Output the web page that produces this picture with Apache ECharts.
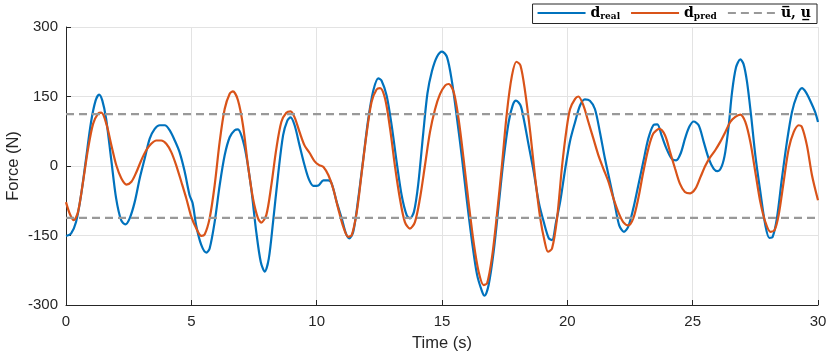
<!DOCTYPE html>
<html>
<head>
<meta charset="utf-8">
<script src="https://cdn.jsdelivr.net/npm/echarts@6/dist/echarts.min.js"></script>
<style>
  html, body { margin: 0; padding: 0; background: #fff; }
  #chart { width: 830px; height: 356px; }
</style>
</head>
<body>
<div id="chart"></div>
<script>
// measured force d_real (time in s, force in N)
const realTime = [0, 0.2, 0.4, 0.6, 0.8, 1.0, 1.18, 1.32, 1.45, 1.6, 1.8, 2.0, 2.2, 2.37, 2.54, 2.74, 2.94, 3.14, 3.34, 3.54, 3.74, 3.94, 4.14, 4.34, 4.53, 4.73, 4.93, 5.05, 5.2, 5.4, 5.6, 5.73, 5.93, 6.13, 6.33, 6.53, 6.73, 6.86, 7.02, 7.19, 7.39, 7.59, 7.77, 7.93, 8.09, 8.26, 8.46, 8.66, 8.83, 8.96, 9.12, 9.32, 9.52, 9.7, 9.87, 10.07, 10.27, 10.47, 10.6, 10.8, 11.0, 11.17, 11.3, 11.46, 11.66, 11.86, 12.06, 12.26, 12.46, 12.59, 12.79, 12.99, 13.19, 13.39, 13.59, 13.72, 13.88, 14.05, 14.25, 14.42, 14.6, 14.8, 15.0, 15.2, 15.4, 15.6, 15.8, 16.0, 16.2, 16.4, 16.6, 16.7, 16.86, 17.06, 17.26, 17.46, 17.66, 17.82, 17.95, 18.13, 18.26, 18.46, 18.66, 18.86, 19.06, 19.26, 19.39, 19.55, 19.72, 19.91, 20.1, 20.31, 20.51, 20.7, 20.9, 21.1, 21.3, 21.5, 21.7, 21.9, 22.07, 22.26, 22.43, 22.63, 22.83, 23.03, 23.23, 23.43, 23.59, 23.76, 23.96, 24.16, 24.34, 24.52, 24.7, 24.87, 25.04, 25.24, 25.44, 25.64, 25.84, 26.0, 26.17, 26.3, 26.44, 26.57, 26.73, 26.9, 27.03, 27.17, 27.33, 27.5, 27.7, 27.9, 28.06, 28.19, 28.36, 28.56, 28.76, 28.96, 29.16, 29.36, 29.52, 29.69, 29.89, 30];
const realForce = [-151, -146, -121, -63, 16, 95, 141, 154, 141, 102, 16, -70, -117, -126, -113, -78, -27, 16, 59, 80, 88, 88, 77, 55, 30, -11, -63, -80, -130, -171, -187, -178, -121, -42, 23, 62, 77, 79, 62, 23, -49, -142, -207, -228, -200, -121, -20, 66, 98, 105, 88, 44, 1, -30, -43, -42, -31, -31, -38, -78, -113, -146, -156, -142, -70, 16, 102, 163, 189, 184, 152, 88, 9, -63, -106, -113, -99, -40, 70, 157, 205, 236, 247, 235, 181, 102, 16, -78, -164, -235, -271, -280, -257, -185, -85, 16, 95, 131, 141, 131, 102, 44, -13, -78, -121, -156, -160, -121, -75, -8, 52, 95, 131, 144, 141, 123, 73, 16, -34, -85, -128, -142, -131, -92, -42, 9, 59, 88, 90, 66, 37, 16, 12, 27, 60, 85, 96, 88, 52, 16, -6, -11, 1, 30, 88, 159, 213, 230, 220, 181, 109, 23, -56, -128, -155, -153, -113, -27, 52, 116, 152, 168, 159, 141, 116, 95];

// predicted force d_pred
const predTime = [0, 0.15, 0.31, 0.48, 0.68, 0.88, 1.08, 1.28, 1.41, 1.61, 1.81, 2.01, 2.21, 2.41, 2.61, 2.81, 3.0, 3.2, 3.4, 3.6, 3.8, 4.0, 4.2, 4.4, 4.6, 4.8, 5.0, 5.2, 5.4, 5.53, 5.73, 5.93, 6.13, 6.33, 6.53, 6.66, 6.86, 7.06, 7.26, 7.46, 7.66, 7.79, 7.99, 8.19, 8.39, 8.59, 8.79, 8.96, 9.12, 9.32, 9.52, 9.72, 9.92, 10.1, 10.27, 10.47, 10.66, 10.86, 11.06, 11.26, 11.4, 11.6, 11.8, 12.0, 12.19, 12.39, 12.53, 12.73, 12.93, 13.12, 13.32, 13.52, 13.72, 13.92, 14.12, 14.32, 14.52, 14.72, 14.92, 15.13, 15.27, 15.47, 15.66, 15.86, 16.06, 16.26, 16.46, 16.66, 16.8, 16.99, 17.19, 17.39, 17.59, 17.79, 17.97, 18.13, 18.32, 18.52, 18.72, 18.92, 19.1, 19.23, 19.39, 19.59, 19.79, 19.97, 20.11, 20.31, 20.44, 20.64, 20.84, 21.04, 21.24, 21.44, 21.64, 21.84, 22.03, 22.23, 22.43, 22.63, 22.83, 23.03, 23.23, 23.43, 23.67, 23.9, 24.1, 24.3, 24.49, 24.69, 24.9, 25.11, 25.31, 25.51, 25.7, 25.9, 26.1, 26.3, 26.5, 26.7, 26.9, 27.1, 27.3, 27.5, 27.7, 27.9, 28.1, 28.27, 28.43, 28.63, 28.83, 29.03, 29.23, 29.36, 29.56, 29.76, 30];
const predForce = [-78, -103, -117, -99, -34, 37, 91, 113, 115, 91, 45, 1, -27, -40, -34, -13, 12, 34, 48, 55, 55, 48, 30, 1, -34, -70, -110, -135, -151, -148, -113, -42, 52, 123, 156, 161, 142, 88, 1, -70, -113, -122, -106, -42, 37, 95, 115, 118, 105, 73, 44, 28, 10, 2, -2, -20, -49, -92, -131, -153, -149, -99, -13, 73, 138, 165, 168, 145, 80, 1, -70, -121, -135, -121, -70, 1, 73, 122, 155, 174, 177, 159, 102, 16, -78, -164, -228, -257, -253, -199, -106, 1, 116, 195, 225, 217, 159, 73, -27, -113, -164, -185, -178, -113, 0, 80, 123, 145, 150, 131, 95, 59, 23, -6, -34, -70, -99, -121, -128, -113, -70, -13, 37, 70, 80, 66, 30, -6, -38, -56, -59, -49, -24, 1, 19, 34, 52, 73, 95, 106, 111, 95, 52, -13, -78, -121, -142, -138, -106, -34, 37, 73, 88, 84, 44, -20, -74];

// input bounds
const boundTime = [0, 30];
const uUpper = 112;
const uLower = -112;

const xTicks = { min: 0, max: 30, step: 5 };
const yTicks = { min: -300, max: 300, step: 150 };

const toPairs = (ts, vs) => ts.map((t, i) => [t, vs[i]]);

const axisColor = '#262626';
const gridColor = '#e3e3e3';
const font = '"Liberation Sans", Arial, Helvetica, sans-serif';
const serif = '"DejaVu Serif", "Liberation Serif", serif';
const boundName = 'bounds';

const legendText = {
  d_real: '{b|d}{s|real}',
  d_pred: '{b|d}{s|pred}',
  bounds: '{b|u\u0305, u\u0332}'
};

const chart = echarts.init(document.getElementById('chart'));

chart.setOption({
  animation: false,
  grid: { left: 66, right: 12, top: 27, bottom: 51, containLabel: false, outerBoundsMode: 'none' },
  legend: {
    right: 13,
    top: 4,
    data: ['d_real', 'd_pred', boundName],
    itemWidth: 48,
    itemHeight: 12,
    itemGap: 10,
    padding: [2, 6, 2, 4],
    borderColor: axisColor,
    borderWidth: 1,
    backgroundColor: '#fff',
    itemStyle: { opacity: 0 },
    formatter: name => legendText[name],
    textStyle: {
      color: '#000',
      rich: {
        b: { fontFamily: serif, fontWeight: 'bold', fontSize: 14, lineHeight: 17 },
        s: { fontFamily: serif, fontWeight: 'bold', fontSize: 9, lineHeight: 17, verticalAlign: 'bottom', padding: [6, 0, 0, 0] }
      }
    }
  },
  xAxis: {
    type: 'value',
    min: xTicks.min,
    max: xTicks.max,
    interval: xTicks.step,
    name: 'Time (s)',
    nameLocation: 'middle',
    nameGap: 30,
    nameMoveOverlap: false,
    nameTextStyle: { fontFamily: font, fontSize: 16.5, color: axisColor },
    axisLine: { show: true, onZero: false, lineStyle: { color: axisColor, width: 1 } },
    axisTick: { show: true, inside: true, length: 5, lineStyle: { color: axisColor } },
    axisLabel: { fontFamily: font, fontSize: 15, color: axisColor, margin: 9 },
    splitLine: { show: true, lineStyle: { color: gridColor, width: 1 } }
  },
  yAxis: {
    type: 'value',
    min: yTicks.min,
    max: yTicks.max,
    interval: yTicks.step,
    name: 'Force (N)',
    nameLocation: 'middle',
    nameGap: 44,
    nameRotate: 90,
    nameMoveOverlap: false,
    nameTextStyle: { fontFamily: font, fontSize: 16.5, color: axisColor },
    axisLine: { show: true, onZero: false, lineStyle: { color: axisColor, width: 1 } },
    axisTick: { show: true, inside: true, length: 5, lineStyle: { color: axisColor } },
    axisLabel: { fontFamily: font, fontSize: 15, color: axisColor, margin: 8 },
    splitLine: { show: true, lineStyle: { color: gridColor, width: 1 } }
  },
  series: [
    {
      name: 'd_real',
      type: 'line',
      data: toPairs(realTime, realForce),
      symbol: 'none',
      smooth: 0.3,
      lineStyle: { color: '#0072BD', width: 2.2 },
      itemStyle: { color: '#0072BD' },
      z: 3
    },
    {
      name: 'd_pred',
      type: 'line',
      data: toPairs(predTime, predForce),
      symbol: 'none',
      smooth: 0.3,
      lineStyle: { color: '#D95319', width: 2.2 },
      itemStyle: { color: '#D95319' },
      z: 4
    },
    {
      name: boundName,
      type: 'line',
      data: boundTime.map(t => [t, uUpper]),
      symbol: 'none',
      lineStyle: { color: '#999999', width: 2.2, type: [8, 5] },
      itemStyle: { color: '#999999' },
      z: 5
    },
    {
      name: boundName,
      type: 'line',
      data: boundTime.map(t => [t, uLower]),
      symbol: 'none',
      lineStyle: { color: '#999999', width: 2.2, type: [8, 5] },
      itemStyle: { color: '#999999' },
      z: 5
    }
  ]
});
</script>
</body>
</html>
